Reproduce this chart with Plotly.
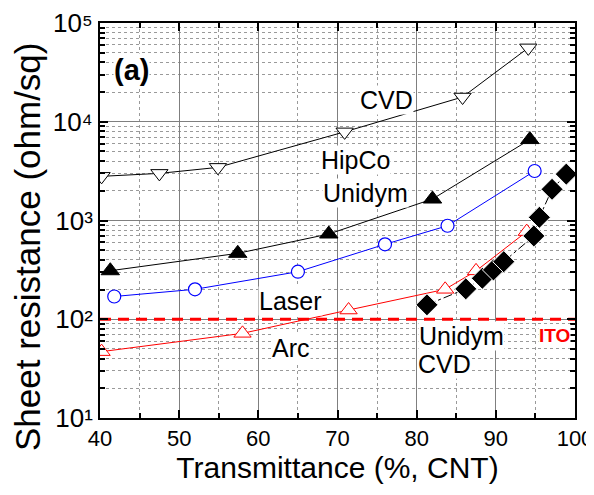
import plotly.graph_objects as go

# ---- data ----
cvd_x = [40.2, 47.5, 54.9, 70.9, 85.8, 94.1]
cvd_y = [2800, 3000, 3450, 7900, 17800, 56000]

hipco_x = [41.3, 57.4, 68.9, 82.0, 94.3]
hipco_y = [310, 465, 730, 1650, 6600]

laser_x = [41.8, 52.0, 65.0, 76.0, 83.9, 94.9]
laser_y = [170, 201, 303, 574, 885, 3170]

arc_x = [40.2, 58.0, 71.4, 83.6, 87.5, 93.9]
arc_y = [47, 72, 124, 201, 309, 772]

ucvd_x = [81.3, 86.2, 88.3, 89.7, 91.0, 94.8, 95.5, 97.1, 98.9]
ucvd_y = [140, 203, 260, 316, 383, 697, 1077, 2070, 2950]

ito_x = [40, 100]
ito_y = [100, 100]

x_ticks = [40, 50, 60, 70, 80, 90, 100]
y_ticks = [10, 100, 1000, 10000, 100000]
y_ticktext = ["10¹", "10²", "10³", "10⁴", "10⁵"]
y_minor = [m * 10 ** k for k in range(1, 5) for m in range(2, 10)]
x_minor = [45, 55, 65, 75, 85, 95]

FONT = "Liberation Sans, Arial, sans-serif"

fig = go.Figure()

fig.add_trace(go.Scatter(x=ito_x, y=ito_y, mode="lines",
                         line=dict(color="#ff0000", width=3, dash="11px,7px"),
                         showlegend=False, hoverinfo="skip"))

fig.add_trace(go.Scatter(x=cvd_x, y=cvd_y, mode="lines+markers",
                         line=dict(color="black", width=1),
                         marker=dict(symbol="triangle-down", size=15, color="white",
                                     line=dict(color="black", width=1)),
                         showlegend=False))
fig.add_trace(go.Scatter(x=hipco_x, y=hipco_y, mode="lines+markers",
                         line=dict(color="black", width=1),
                         marker=dict(symbol="triangle-up", size=16, color="black",
                                     line=dict(color="black", width=1)),
                         showlegend=False))
fig.add_trace(go.Scatter(x=laser_x, y=laser_y, mode="lines+markers",
                         line=dict(color="#0000ff", width=1),
                         marker=dict(symbol="circle", size=13, color="white",
                                     line=dict(color="#0000ff", width=1.2)),
                         showlegend=False))
fig.add_trace(go.Scatter(x=arc_x, y=arc_y, mode="lines+markers",
                         line=dict(color="#ff0000", width=1),
                         marker=dict(symbol="triangle-up", size=15, color="white",
                                     line=dict(color="#ff0000", width=1)),
                         showlegend=False))
fig.add_trace(go.Scatter(x=ucvd_x, y=ucvd_y, mode="lines+markers",
                         line=dict(color="black", width=1, dash="dashdot"),
                         marker=dict(symbol="diamond", size=17, color="black",
                                     line=dict(color="white", width=1)),
                         showlegend=False))

def ann(text, x, ylog, size=25, color="black", bold=False, xanchor="center", yanchor="middle"):
    if bold:
        text = "<b>" + text + "</b>"
    fig.add_annotation(x=x, y=ylog, text=text, showarrow=False, xanchor=xanchor, yanchor=yanchor,
                       font=dict(family=FONT, size=size, color=color),
                       bgcolor="white", borderpad=0)

ann("(a)", 44.0, 4.52, size=29, bold=True)
ann("CVD", 76.2, 4.22)
ann("HipCo", 72.3, 3.61)
ann("Unidym", 73.5, 3.28)
ann("Laser", 64.1, 2.18)
ann("Arc", 64.1, 1.71)
ann("Unidym", 85.6, 1.982, yanchor="top")
ann("CVD", 83.5, 1.55)
ann("ITO", 97.4, 1.84, size=19, color="#ff0000", bold=True)

# y-axis title (placed as paper annotation so it sits where the reference has it)
fig.add_annotation(xref="paper", yref="paper", x=-0.154, y=0.435,
                   text="Sheet resistance (ohm/sq)", textangle=-90, showarrow=False,
                   xanchor="center", yanchor="middle",
                   font=dict(family=FONT, size=35, color="black"))

fig.update_xaxes(range=[40, 100], tickvals=x_ticks, automargin=False,
                 ticks="inside", ticklen=8, tickwidth=1.5, tickcolor="black",
                 showline=True, linecolor="black", linewidth=2, mirror="allticks",
                 showgrid=True, gridcolor="#7f7f7f", gridwidth=1.2,
                 minor=dict(tickvals=x_minor, ticks="inside", ticklen=5, tickcolor="black",
                            showgrid=True, gridcolor="#9a9a9a", griddash="dot", gridwidth=1),
                 tickfont=dict(family=FONT, size=22, color="black"),
                 ticklabeloverflow="allow",
                 title=dict(text="Transmittance (%, CNT)", font=dict(family=FONT, size=30, color="black"),
                            standoff=4),
                 zeroline=False)
fig.update_yaxes(type="log", range=[1, 5], tickvals=y_ticks, ticktext=y_ticktext, automargin=False,
                 ticks="inside", ticklen=8, tickwidth=1.5, tickcolor="black",
                 showline=True, linecolor="black", linewidth=2, mirror="allticks",
                 showgrid=True, gridcolor="#7f7f7f", gridwidth=1.2,
                 minor=dict(tickvals=y_minor, ticks="inside", ticklen=5, tickcolor="black",
                            showgrid=True, gridcolor="#9a9a9a", griddash="dot", gridwidth=1),
                 tickfont=dict(family=FONT, size=26, color="black"),
                 ticklabeloverflow="allow",
                 zeroline=False)

# page body adds an 8px offset; size/margins compensate so the plot area lands where the reference has it
fig.update_layout(width=586, height=487,
                  margin=dict(l=92, r=19, t=15, b=77),
                  paper_bgcolor="white", plot_bgcolor="white",
                  showlegend=False)

fig.write_html("out.html")
